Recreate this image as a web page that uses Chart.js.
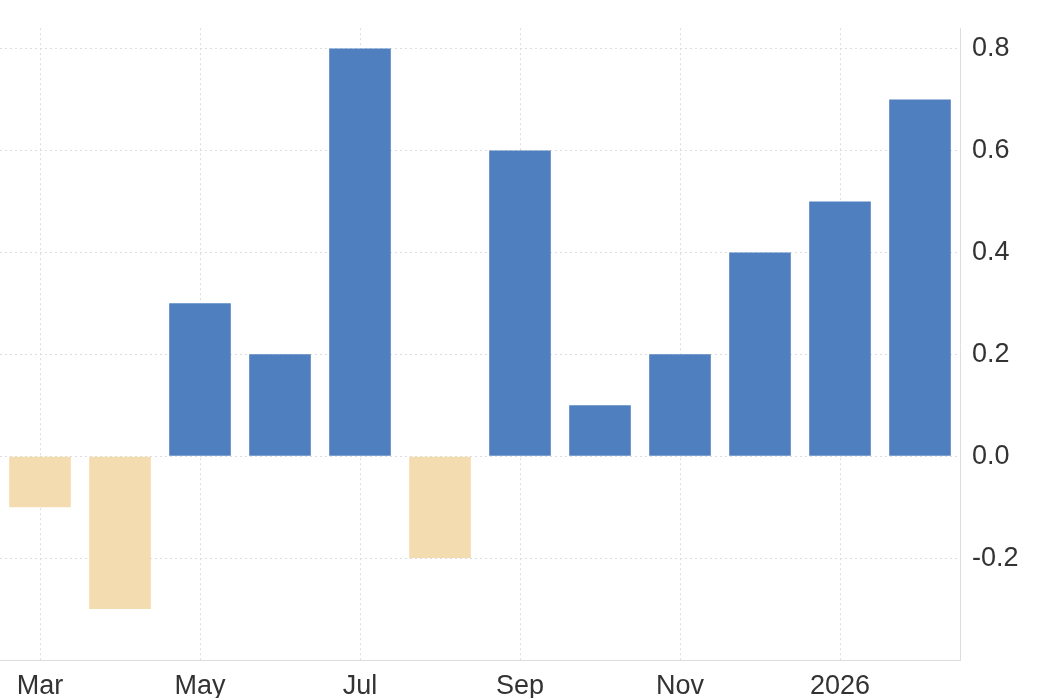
<!DOCTYPE html>
<html><head><meta charset="utf-8">
<script src="https://cdn.jsdelivr.net/npm/chart.js@4"></script>
<style>html,body{margin:0;padding:0;background:#fff}#w{width:1039px;height:698px}</style>
</head><body><div id="w"><canvas id="c"></canvas></div>
<script>
const categories = ['Mar','Apr','May','Jun','Jul','Aug','Sep','Oct','Nov','Dec','2026','Feb'];
const values = [-0.1,-0.3,0.3,0.2,0.8,-0.2,0.6,0.1,0.2,0.4,0.5,0.7];
const yTicks = [-0.2,0,0.2,0.4,0.6,0.8];
const blue = '#4f7fbf', tan = '#f3dcb0';
new Chart(document.getElementById('c'), {
  type: 'bar',
  data: { labels: categories, datasets: [{ data: values,
    backgroundColor: values.map(v => v < 0 ? tan : blue),
    barPercentage: 0.77, categoryPercentage: 1 }] },
  options: {
    responsive: true, maintainAspectRatio: false, animation: false,
    layout: { padding: { top: 0, left: 0, right: 0, bottom: 0 } },
    plugins: { legend: { display: false }, tooltip: { enabled: false } },
    scales: {
      x: {
        afterFit: s => { s.height = 38; },
        grid: { display: true, drawTicks: false, color: c => c.index % 2 === 0 ? '#dddddd' : 'rgba(0,0,0,0)', offset: false },
        border: { display: true, color: '#dddddd', dash: [2,3] },
        ticks: { autoSkip: false, maxRotation: 0, padding: 10, color: '#333', font: { family: 'Liberation Sans', size: 27 },
          callback: (v, i) => i % 2 === 0 ? categories[i] : '' }
      },
      y: {
        position: 'right', min: -0.4, max: 0.84,
        afterFit: s => { s.width = 79; },
        afterBuildTicks: s => { s.ticks = [-0.4, ...yTicks].map(v => ({ value: v })); },
        grid: { drawTicks: false, color: '#dddddd' },
        border: { display: true, color: '#dddddd', dash: [2,3] },
        ticks: { padding: 12, color: '#333', font: { family: 'Liberation Sans', size: 27 },
          callback: v => v <= -0.39 ? '' : v.toFixed(1) }
      }
    }
  }
});
</script></body></html>
